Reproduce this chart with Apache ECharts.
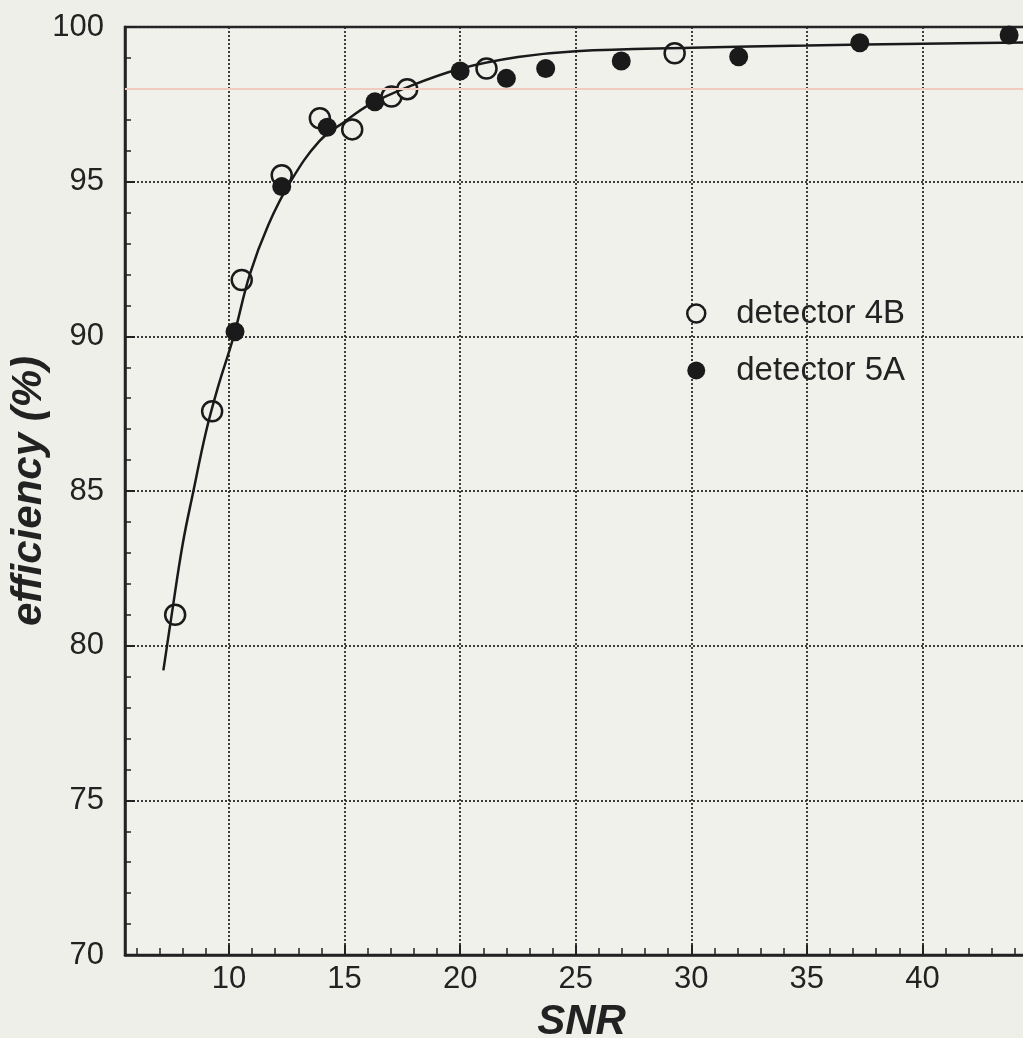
<!DOCTYPE html>
<html>
<head>
<meta charset="utf-8">
<title>efficiency vs SNR</title>
<script src="https://cdn.jsdelivr.net/npm/echarts@6/dist/echarts.min.js"></script>
<style>
html, body { margin: 0; padding: 0; background: #efefea; }
#chart { width: 1023px; height: 1038px; }
</style>
</head>
<body>
<div id="chart"></div>
<script>
// values
var det4BSnr = [7.67, 9.27, 10.55, 12.28, 13.93, 15.33, 17.03, 17.71, 21.14, 29.28];
var det4BEff = [81.0, 87.58, 91.82, 95.21, 97.05, 96.69, 97.75, 97.99, 98.66, 99.15];
var det5ASnr = [10.26, 12.28, 14.25, 16.31, 20.0, 22.0, 23.7, 26.97, 32.05, 37.29, 43.75];
var det5AEff = [90.15, 94.84, 96.76, 97.58, 98.58, 98.34, 98.66, 98.9, 99.04, 99.49, 99.74];
// fitted curve, traced point by point
var fitSnr = [7.16, 7.5, 8.0, 8.46, 9.0, 9.5, 10.2, 10.9, 11.7, 12.66, 13.9, 15.0, 16.1, 17.7, 20.0, 22.5, 25.0, 30.0, 35.0, 40.0, 45.0];
var fitEff = [79.2, 80.9, 83.3, 85.0, 86.9, 88.3, 90.0, 92.0, 93.6, 95.0, 96.3, 96.94, 97.5, 98.05, 98.65, 99.03, 99.22, 99.33, 99.4, 99.46, 99.5];
var refLevel = 98;

function zip(xs, ys){
	var out = [];
	for (var i = 0; i < xs.length; i++) {
		out.push([xs[i], ys[i]]);
	}
	return out;
}

var ink = '#222';
var gridDots = { color: '#2a2a2a', width: 1.8, type: [2, 2] };

var chart = echarts.init(document.getElementById('chart'));
var option = {
	backgroundColor: '#efefea',
	animation: false,
	grid: {
		left: 125, top: 27, right: -15, bottom: 83,
		outerBoundsMode: 'none',
		show: true,
		backgroundColor: '#f1f1ec',
		borderColor: ink,
		borderWidth: 2.5
	},
	legend: {
		orient: 'vertical',
		left: 681, top: 290,
		itemWidth: 18, itemHeight: 18,
		itemGap: 20,
		data: ['detector 4B', 'detector 5A'],
		itemStyle: { borderWidth: 2.5 },
		textStyle: {
			fontFamily: 'Liberation Sans', fontSize: 33, color: ink,
			lineHeight: 37, padding: [0, 0, 0, 26]
		}
	},
	xAxis: {
		type: 'value',
		min: 5.5, max: 45,
		minInterval: 5, maxInterval: 5,
		name: 'SNR',
		nameLocation: 'middle',
		nameGap: 46,
		nameMoveOverlap: false,
		nameTextStyle: {
			fontFamily: 'Liberation Sans', fontSize: 42, fontWeight: 'bold',
			fontStyle: 'italic', color: ink
		},
		axisLine: { onZero: false, lineStyle: { color: ink, width: 2.5 } },
		axisTick: { inside: true, length: 10, lineStyle: { color: ink, width: 2 } },
		minorTick: { show: true, splitNumber: 5, length: 7, lineStyle: { color: ink, width: 1.5 } },
		axisLabel: {
			fontFamily: 'Liberation Sans', fontSize: 31, color: ink, margin: 9,
			showMinLabel: false, showMaxLabel: false
		},
		splitLine: { show: true, lineStyle: gridDots }
	},
	yAxis: {
		type: 'value',
		min: 70, max: 100, interval: 5,
		name: 'efficiency (%)',
		nameLocation: 'middle',
		nameRotate: 90,
		nameGap: 75,
		nameMoveOverlap: false,
		nameTextStyle: {
			fontFamily: 'Liberation Sans', fontSize: 42, fontWeight: 'bold',
			fontStyle: 'italic', color: ink
		},
		axisLine: { lineStyle: { color: ink, width: 2.5 } },
		axisTick: { inside: true, length: 10, lineStyle: { color: ink, width: 2 } },
		minorTick: { show: true, splitNumber: 5, length: 6, lineStyle: { color: ink, width: 1.5 } },
		axisLabel: { fontFamily: 'Liberation Sans', fontSize: 31, color: ink, margin: 21 },
		splitLine: { show: true, lineStyle: gridDots }
	},
	series: [
		{
			name: 'fit',
			type: 'line',
			data: zip(fitSnr, fitEff),
			smooth: 0.4,
			showSymbol: false,
			silent: true,
			lineStyle: { color: '#1a1a1a', width: 2.5 },
			markLine: {
				silent: true,
				symbol: 'none',
				label: { show: false },
				lineStyle: { color: '#f2cbc0', width: 2, type: 'solid' },
				data: [{ yAxis: refLevel }]
			}
		},
		{
			name: 'detector 4B',
			type: 'scatter',
			data: zip(det4BSnr, det4BEff),
			symbol: 'circle',
			symbolSize: 20,
			itemStyle: { color: '#efefea', borderColor: '#1a1a1a', borderWidth: 2.5, opacity: 1 }
		},
		{
			name: 'detector 5A',
			type: 'scatter',
			data: zip(det5ASnr, det5AEff),
			symbol: 'circle',
			symbolSize: 19,
			itemStyle: { color: '#1a1a1a', opacity: 1 }
		}
	]
};
chart.setOption(option);
</script>
</body>
</html>
